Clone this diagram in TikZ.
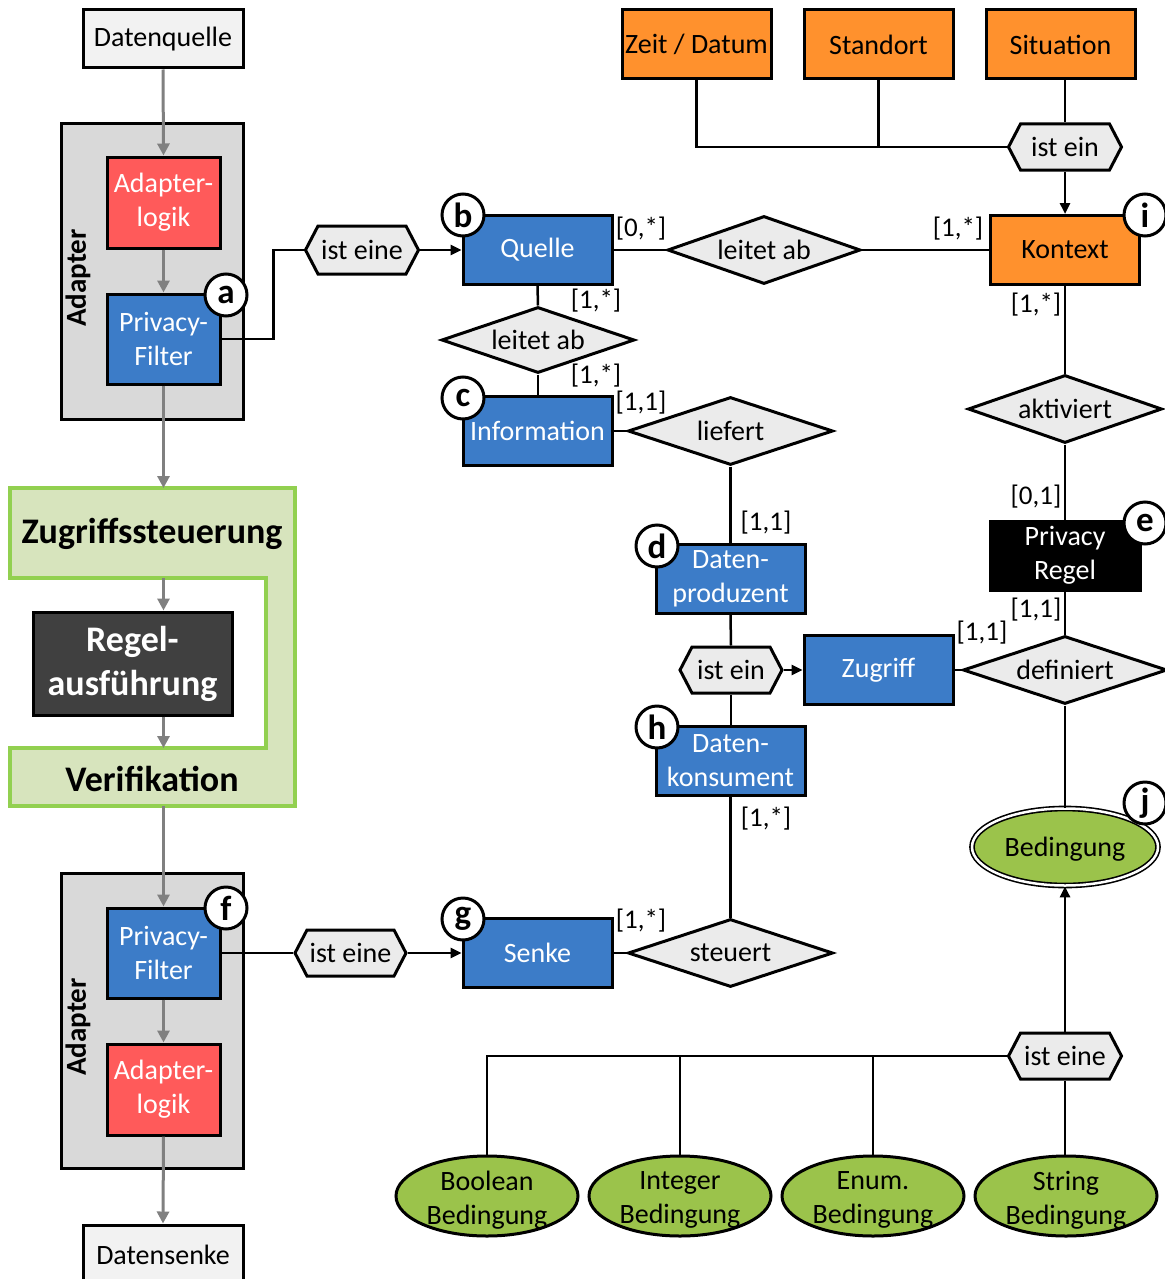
\documentclass[tikz,border=0pt]{standalone}
\usepackage{fontspec}
\setmainfont{Carlito}
\usetikzlibrary{shapes.geometric,shapes.symbols,arrows.meta}

\definecolor{qblue}{RGB}{60,124,200}
\definecolor{qred}{RGB}{255,90,90}
\definecolor{qorange}{RGB}{255,145,45}
\definecolor{qgraybox}{RGB}{217,217,217}
\definecolor{qlight}{RGB}{242,242,242}
\definecolor{qrel}{RGB}{235,235,235}
\definecolor{qgreen}{RGB}{155,195,75}
\definecolor{qpale}{RGB}{215,228,189}
\definecolor{qlime}{RGB}{146,208,80}
\definecolor{qdark}{RGB}{64,64,64}
\definecolor{qarrow}{RGB}{128,128,128}

\newcommand\fnorm{\fontsize{28}{34}\selectfont}
\newcommand\fcard{\fontsize{27}{30}\selectfont}
\newcommand\fbig{\fontsize{36}{44}\selectfont\bfseries}
\newcommand\fletter{\fontsize{35}{35}\selectfont\bfseries}

\begin{document}
\begin{tikzpicture}[x=1pt,y=-1pt,
  ent/.style={draw=black, line width=3pt, inner sep=0pt, align=center,
    font=\fnorm, minimum width=149pt, minimum height=69pt},
  entblue/.style={ent, fill=qblue, text=white},
  entred/.style={ent, fill=qred, text=white, minimum width=113pt, minimum height=91pt},
  entorange/.style={ent, fill=qorange},
  rel/.style={diamond, draw=black, line width=3pt, fill=qrel, inner sep=0pt,
    aspect=2.9, font=\fnorm},
  isa/.style={signal, signal to=east and west, signal pointer angle=125,
    draw=black, line width=3pt, fill=qrel, inner sep=0pt, font=\fnorm,
    minimum height=46pt},
  badge/.style={circle, draw=black, fill=white, line width=3pt,
    minimum size=42pt, inner sep=0pt, font=\fletter},
  card/.style={font=\fcard, inner sep=0pt},
  cond/.style={ellipse, draw=black, line width=3pt, fill=qgreen,
    minimum width=182pt, minimum height=80pt, inner sep=0pt},
  condtext/.style={font=\fnorm, align=center, inner sep=0pt},
  conn/.style={draw=black, line width=2.5pt},
  tip/.style={-{Triangle[length=11pt,width=10pt]}},
  flow/.style={draw=qarrow, line width=3pt, -{Triangle[length=12pt,width=12pt]}}
]
\useasboundingbox (0,0) rectangle (1164,1279);

% ---------- left column: data flow ----------
\node[ent, fill=qlight, minimum width=160pt, minimum height=58pt] (dq) at (163,39) {Datenquelle};

\node[draw=black, line width=3pt, fill=qgraybox, minimum width=182pt, minimum height=295pt] (ad1) at (152,271.5) {};
\node[font=\fontsize{29}{29}\selectfont\bfseries, rotate=90] (ad1l) at (78,278) {Adapter};
\node[entred] (al1) at (163.5,202.5) {Adapter-\\logik};
\node[entblue, minimum width=113pt, minimum height=90pt] (pf1) at (163.5,339) {Privacy-\\Filter};

% access control block
\draw[draw=qlime, fill=qpale, line width=3.5pt]
  (10,488) -- (295,488) -- (295,806) -- (10,806) -- (10,748)
  -- (266,748) -- (266,578) -- (10,578) -- cycle;
\node[font=\fbig] (zs) at (152,534) {Zugriffssteuerung};
\node[font=\fbig] (veri) at (152,779) {Verifikation};
\coordinate (zstop) at (163.5,488);
\coordinate (zsbot) at (163.5,578);
\coordinate (vtop) at (163.5,748);
\coordinate (vbot) at (163.5,806);
\node[ent, fill=qdark, text=white, font=\fbig, minimum width=199pt, minimum height=103pt] (re) at (132.5,663.5) {Regel-\\ausführung};

\node[draw=black, line width=3pt, fill=qgraybox, minimum width=182pt, minimum height=295pt] (ad2) at (152,1020.5) {};
\node[font=\fontsize{29}{29}\selectfont\bfseries, rotate=90] (ad2l) at (78,1027) {Adapter};
\node[entblue, minimum width=113pt, minimum height=90pt] (pf2) at (163.5,953) {Privacy-\\Filter};
\node[entred] (al2) at (163.5,1089.5) {Adapter-\\logik};

\node[ent, fill=qlight, minimum width=160pt, minimum height=60pt] (ds) at (163,1255) {Datensenke};

\draw[flow] (dq.south) -- (al1.north);
\draw[flow] (al1.south) -- (pf1.north);
\draw[flow] (pf1.south) -- (zstop);
\draw[flow] (zsbot) -- (zsbot |- re.north);
\draw[flow] (re.south -| zsbot) -- (vtop);
\draw[flow] (vbot) -- (pf2.north);
\draw[flow] (pf2.south) -- (al2.north);
\draw[flow] (al2.south) -- (ds.north);

% ---------- model: sources and information ----------
\node[isa, minimum width=113pt, minimum height=48pt] (hx1) at (362,250) {ist eine};
\node[entblue] (q) at (537.5,250) {Quelle};
\node[rel, minimum width=193pt, minimum height=68pt] (la1) at (764,250) {leitet ab};
\node[entorange] (ko) at (1065,250) {Kontext};
\node[rel, minimum width=193pt, minimum height=66pt] (la2) at (538,340) {leitet ab};
\node[entblue] (inf) at (537.5,431) {Information};
\node[rel, minimum width=205pt, minimum height=68pt] (lf) at (730.5,431) {liefert};

\node[entorange] (zd) at (696.5,44.5) {Zeit / Datum};
\node[entorange] (so) at (878.5,44.5) {Standort};
\node[entorange] (si) at (1060.5,44.5) {Situation};
\node[isa, minimum width=113pt] (hxk) at (1065,147) {ist ein};

\draw[conn] (pf1.east) -- ++(52,0) |- (hx1.west);
\draw[conn, tip] (hx1.east) -- (q.west);
\draw[conn] (q.east) -- (la1.west);
\draw[conn] (la1.east) -- (ko.west);
\draw[conn] (q.south) -- (la2.north);
\draw[conn] (la2.south) -- (la2.south |- inf.north);
\draw[conn] (inf.east) -- (lf.west);
\draw[conn] (zd.south) |- (hxk.west);
\draw[conn] (so.south) -- (so.south |- hxk.west);
\draw[conn] (hxk.north |- si.south) -- (hxk.north);
\draw[conn, tip] (hxk.south) -- (ko.north);

% ---------- producers, consumers, access ----------
\node[entblue] (dp) at (730.5,579) {Daten-\\produzent};
\node[isa, minimum width=102pt] (hxz) at (731,670) {ist ein};
\node[entblue] (zg) at (878.5,670) {Zugriff};
\node[entblue] (dk) at (730.5,761) {Daten-\\konsument};
\node[rel, minimum width=205pt, minimum height=68pt] (st) at (730.5,953) {steuert};
\node[entblue] (sk) at (537.5,953) {Senke};
\node[isa, minimum width=111pt] (hx2) at (350.5,953) {ist eine};

\draw[conn] (lf.south) -- (lf.south |- dp.north);
\draw[conn] (dp.south) -- (hxz.north);
\draw[conn, tip] (hxz.east) -- (zg.west);
\draw[conn] (hxz.south) -- (hxz.south |- dk.north);
\draw[conn] (dk.south) -- (dk.south |- st.north);
\draw[conn] (sk.east) -- (st.west);
\draw[conn] (pf2.east) -- (hx2.west);
\draw[conn, tip] (hx2.east) -- (sk.west);

% ---------- privacy rules and conditions ----------
\node[rel, minimum width=194pt, minimum height=68pt] (ak) at (1065,409) {aktiviert};
\node[ent, fill=black, text=white, minimum width=150pt] (pr) at (1065,555.5) {Privacy\\Regel};
\node[rel, minimum width=204pt, minimum height=68pt] (df) at (1065,670) {definiert};
\node[ellipse, draw=black, double=white, double distance=2.5pt, line width=1.6pt,
  fill=qgreen, minimum width=186pt, minimum height=77pt, inner sep=0pt] (bed) at (1065,847) {};
\node[condtext] (bedt) at (1065,849) {Bedingung};
\node[isa, minimum width=113pt] (hxb) at (1065,1056) {ist eine};

\node[cond] (be1) at (487,1196) {};
\node[cond] (be2) at (680,1196) {};
\node[cond] (be3) at (873,1196) {};
\node[cond] (be4) at (1066,1196) {};
\node[condtext] (be1t) at (487,1200) {Boolean\\Bedingung};
\node[condtext] (be2t) at (680,1200) {Integer\\Bedingung};
\node[condtext] (be3t) at (873,1200) {Enum.\\Bedingung};
\node[condtext] (be4t) at (1066,1200) {String\\Bedingung};

\draw[conn] (ko.south) -- (ak.north);
\draw[conn] (ak.south) -- (pr.north);
\draw[conn] (pr.south) -- (df.north);
\draw[conn] (zg.east) -- (df.west);
\draw[conn] (df.south) -- (bed.north);
\draw[conn, tip] (hxb.north) -- (bed.south);
\draw[conn] (hxb.west) -| (be1.north);
\draw[conn] (be2.north) -- (be2.north |- hxb.west);
\draw[conn] (be3.north) -- (be3.north |- hxb.west);
\draw[conn] (hxb.south) -- (hxb.south |- be4.north);

% ---------- cardinalities ----------
\node[card] (c1) at (641,229) {[0,*]};
\node[card] (c2) at (958,229) {[1,*]};
\node[card] (c3) at (596,301) {[1,*]};
\node[card] (c4) at (596,376) {[1,*]};
\node[card] (c5) at (641,403) {[1,1]};
\node[card] (c6) at (766,523) {[1,1]};
\node[card] (c7) at (1036,305) {[1,*]};
\node[card] (c8) at (1036,497) {[0,1]};
\node[card] (c9) at (1036,610) {[1,1]};
\node[card] (c10) at (982,633) {[1,1]};
\node[card] (c11) at (766,819) {[1,*]};
\node[card] (c12) at (641,921) {[1,*]};

% ---------- reference letters ----------
\node[badge] (ba) at (226,295) {a};
\node[badge] (bb) at (463,215) {b};
\node[badge] (bc) at (463,398) {c};
\node[badge] (bd) at (657,546) {d};
\node[badge] (be) at (1145,523) {e};
\node[badge] (bf) at (226,908) {f};
\node[badge] (bg) at (463,919) {g};
\node[badge] (bh) at (657,727) {h};
\node[badge] (bi) at (1145,215) {i};
\node[badge] (bj) at (1145,803) {j};
\end{tikzpicture}
\end{document}
